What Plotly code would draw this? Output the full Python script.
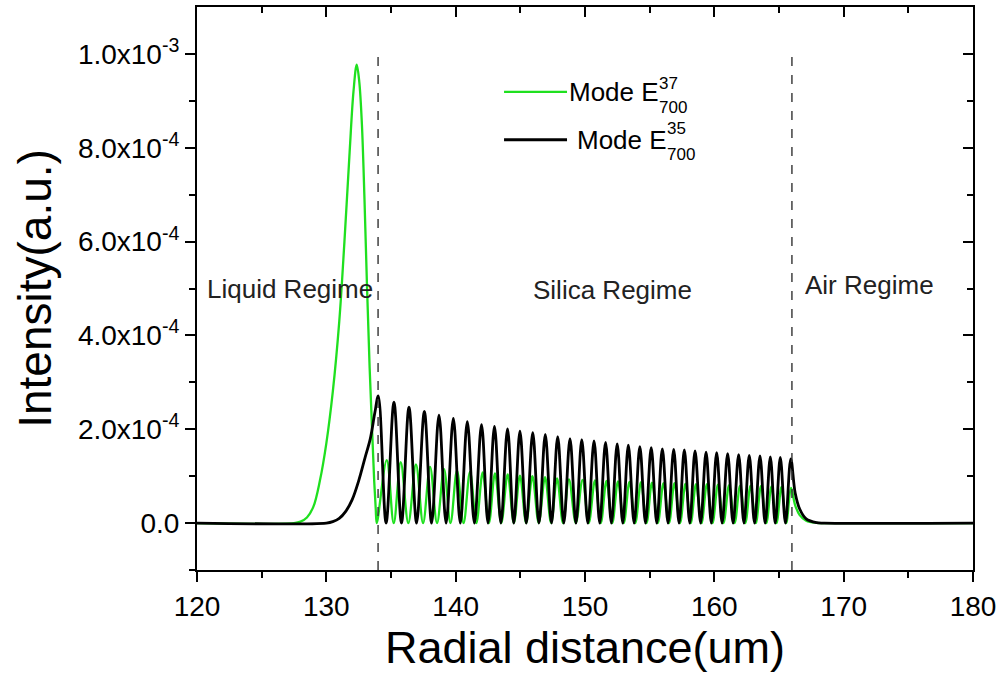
import plotly.graph_objects as go

SCALE = 1e-4  # values below are in units of 1e-4

# ---- Mode E700^35 (black) ----
black_rise_x = [120.0, 130.0, 130.5, 131.0, 131.5, 132.0, 132.5, 133.0, 133.4, 133.75]
black_rise_y = [0.0, 0.0, 0.03, 0.1, 0.25, 0.5, 0.9, 1.4, 1.8, 2.35]
black_peak_x = [134.02, 135.23, 136.39, 137.58, 138.71, 139.82, 140.90, 142.00, 143.00, 144.01,
                144.97, 145.96, 146.93, 147.89, 148.84, 149.75, 150.70, 151.59, 152.49, 153.35,
                154.24, 155.12, 155.98, 156.86, 157.68, 158.51, 159.36, 160.18, 161.03, 161.88,
                162.70, 163.53, 164.33, 165.10, 165.91]
black_peak_y = [2.71, 2.58, 2.47, 2.38, 2.30, 2.23, 2.16, 2.10, 2.06, 2.01,
                1.96, 1.93, 1.89, 1.84, 1.80, 1.78, 1.75, 1.72, 1.69, 1.66,
                1.63, 1.61, 1.58, 1.57, 1.56, 1.54, 1.51, 1.50, 1.48, 1.46,
                1.44, 1.43, 1.41, 1.40, 1.37]
black_trough_x = [134.62, 135.81, 136.98, 138.14, 139.26, 140.36, 141.45, 142.50, 143.50, 144.49,
                  145.46, 146.44, 147.41, 148.36, 149.30, 150.22, 151.14, 152.04, 152.92, 153.80,
                  154.68, 155.55, 156.42, 157.27, 158.10, 158.94, 159.77, 160.60, 161.45, 162.29,
                  163.11, 163.93, 164.71, 165.50]
black_trough_y = [0.0] * 34
black_tail_x = [166.25, 166.6, 167.1, 167.9, 168.5, 180.0]
black_tail_y = [0.64, 0.30, 0.09, 0.01, 0.0, 0.0]

# ---- Mode E700^37 (green) ----
green_rise_x = [120.0, 127.5, 128.0, 128.5, 129.0, 129.5, 130.0, 130.5, 131.0, 131.4, 131.8,
                132.1, 132.35, 132.55, 132.75, 132.95, 133.15, 133.35, 133.55, 133.7, 133.82]
green_rise_y = [0.0, 0.0, 0.03, 0.12, 0.35, 0.9, 1.7, 2.8, 4.3, 6.0, 7.9,
                9.2, 9.77, 9.4, 8.5, 6.9, 5.0, 3.3, 1.9, 0.9, 0.3]
green_peak_x = [134.67, 135.75, 136.93, 138.02, 139.10, 140.10, 141.11, 142.09, 143.04, 144.02,
                144.97, 145.93, 146.91, 147.84, 148.76, 149.81, 150.77, 151.66, 152.55, 153.44,
                154.33, 155.18, 156.07, 156.92, 157.77, 158.58, 159.43, 160.28, 161.14, 161.99,
                162.80, 163.61, 164.42, 165.19, 165.93]
green_peak_y = [1.34, 1.30, 1.25, 1.20, 1.15, 1.12, 1.09, 1.08, 1.06, 1.04,
                1.01, 1.00, 0.98, 0.95, 0.93, 0.92, 0.91, 0.90, 0.89, 0.88,
                0.87, 0.86, 0.85, 0.85, 0.84, 0.83, 0.83, 0.82, 0.81, 0.80,
                0.80, 0.79, 0.78, 0.77, 0.75]
green_trough_x = [133.90, 135.21, 136.34, 137.48, 138.56, 139.60, 140.61, 141.60, 142.57, 143.53,
                  144.50, 145.45, 146.42, 147.38, 148.30, 149.29, 150.29, 151.22, 152.11, 153.00,
                  153.89, 154.76, 155.63, 156.50, 157.35, 158.18, 159.01, 159.86, 160.71, 161.57,
                  162.40, 163.21, 164.02, 164.81, 165.56]
green_trough_y = [0.0] * 35
green_tail_x = [166.25, 166.6, 167.1, 167.9, 168.5, 180.0]
green_tail_y = [0.38, 0.17, 0.05, 0.005, 0.0, 0.0]

# ---- axes / labels ----
x_ticks = [120, 130, 140, 150, 160, 170, 180]
x_minor = [125, 135, 145, 155, 165, 175]
y_ticks = [0, 2e-4, 4e-4, 6e-4, 8e-4, 1e-3]
y_ticktext = ["0.0", "2.0x10<sup>-4</sup>", "4.0x10<sup>-4</sup>", "6.0x10<sup>-4</sup>",
              "8.0x10<sup>-4</sup>", "1.0x10<sup>-3</sup>"]
y_minor = [-1e-4, 1e-4, 3e-4, 5e-4, 7e-4, 9e-4]
boundaries = [134, 166]
regimes = ["Liquid Regime", "Silica Regime", "Air Regime"]
regime_x = [127.2, 152.1, 172.0]
regime_y = [5.0e-4, 4.97e-4, 5.07e-4]


def build(parts):
    pts = []
    for xs, ys in parts:
        pts.extend(zip(xs, ys))
    pts.sort(key=lambda p: p[0])
    return [p[0] for p in pts], [p[1] * SCALE for p in pts]


gx, gy = build([(green_rise_x, green_rise_y), (green_peak_x, green_peak_y),
                (green_trough_x, green_trough_y), (green_tail_x, green_tail_y)])
bx, by = build([(black_rise_x, black_rise_y), (black_peak_x, black_peak_y),
                (black_trough_x, black_trough_y), (black_tail_x, black_tail_y)])

GREEN = "#1fe01f"
FONT = "Liberation Sans, Arial, sans-serif"
XR = [120, 180]
YR = [-1e-4, 1.1e-3]

fig = go.Figure()
fig.add_trace(go.Scatter(x=gx, y=gy, mode="lines", line=dict(color=GREEN, width=2.3, shape="spline", smoothing=1.0),
                         name="Mode E37", showlegend=False))
fig.add_trace(go.Scatter(x=bx, y=by, mode="lines", line=dict(color="black", width=2.8, shape="spline", smoothing=1.0),
                         name="Mode E35", showlegend=False))
# empty trace so that the mirrored top/right axes are drawn
fig.add_trace(go.Scatter(x=[None], y=[None], xaxis="x2", yaxis="y2", mode="lines",
                         showlegend=False, hoverinfo="skip"))

for b in boundaries:
    fig.add_shape(type="line", x0=b, x1=b, y0=-1e-4, y1=1e-3, xref="x", yref="y",
                  line=dict(color="#333333", width=1.4, dash="dash"))

for t, x, y in zip(regimes, regime_x, regime_y):
    fig.add_annotation(x=x, y=y, text=t, showarrow=False, xref="x", yref="y",
                       font=dict(family=FONT, size=26, color="#222222"))

# manual legend
leg = [
    dict(color=GREEN, y=9.19e-4, tx=148.61, sx=155.55, sup="37", supy=9.38e-4, suby=8.86e-4, w=2.2),
    dict(color="black", y=8.17e-4, tx=149.23, sx=156.15, sup="35", supy=8.40e-4, suby=7.86e-4, w=2.8),
]
for L in leg:
    fig.add_shape(type="line", x0=143.74, x1=148.61, y0=L["y"], y1=L["y"], xref="x", yref="y",
                  line=dict(color=L["color"], width=L["w"]))
    fig.add_annotation(x=L["tx"], y=L["y"], text="Mode E", showarrow=False, xanchor="left",
                       xref="x", yref="y", font=dict(family=FONT, size=26, color="black"))
    fig.add_annotation(x=L["sx"], y=L["supy"], text=L["sup"], showarrow=False, xanchor="left",
                       xref="x", yref="y", font=dict(family=FONT, size=17, color="black"))
    fig.add_annotation(x=L["sx"], y=L["suby"], text="700", showarrow=False, xanchor="left",
                       xref="x", yref="y", font=dict(family=FONT, size=17, color="black"))

axis_common = dict(showline=True, linecolor="black", linewidth=2, showgrid=False, zeroline=False,
                   tickcolor="black", tickwidth=2, ticklen=10)

fig.update_layout(
    width=1003, height=678,
    margin=dict(l=197, r=30, t=7, b=108),
    plot_bgcolor="white", paper_bgcolor="white",
    font=dict(family=FONT, color="black"),
    xaxis=dict(range=XR, tickmode="array", tickvals=x_ticks, ticks="outside",
               tickfont=dict(size=28, family=FONT),
               minor=dict(tickmode="array", tickvals=x_minor, ticks="outside", ticklen=6, tickwidth=2, tickcolor="black"),
               title=dict(text="Radial distance(um)", font=dict(size=45, family=FONT), standoff=6),
               **axis_common),
    yaxis=dict(range=YR, tickmode="array", tickvals=y_ticks, ticktext=y_ticktext, ticks="outside",
               tickfont=dict(size=28, family=FONT),
               minor=dict(tickmode="array", tickvals=y_minor, ticks="outside", ticklen=6, tickwidth=2, tickcolor="black"),
               title=dict(text="Intensity(a.u.)", font=dict(size=46, family=FONT), standoff=12),
               **axis_common),
    xaxis2=dict(range=XR, overlaying="x", side="top", anchor="y2", tickmode="array", tickvals=x_ticks,
                ticks="inside", showticklabels=False,
                minor=dict(tickmode="array", tickvals=x_minor, ticks="inside", ticklen=6, tickwidth=2, tickcolor="black"),
                **axis_common),
    yaxis2=dict(range=YR, overlaying="y", side="right", anchor="x2", tickmode="array", tickvals=y_ticks,
                ticks="inside", showticklabels=False,
                minor=dict(tickmode="array", tickvals=y_minor, ticks="inside", ticklen=6, tickwidth=2, tickcolor="black"),
                **axis_common),
)

fig.write_html("out.html")
